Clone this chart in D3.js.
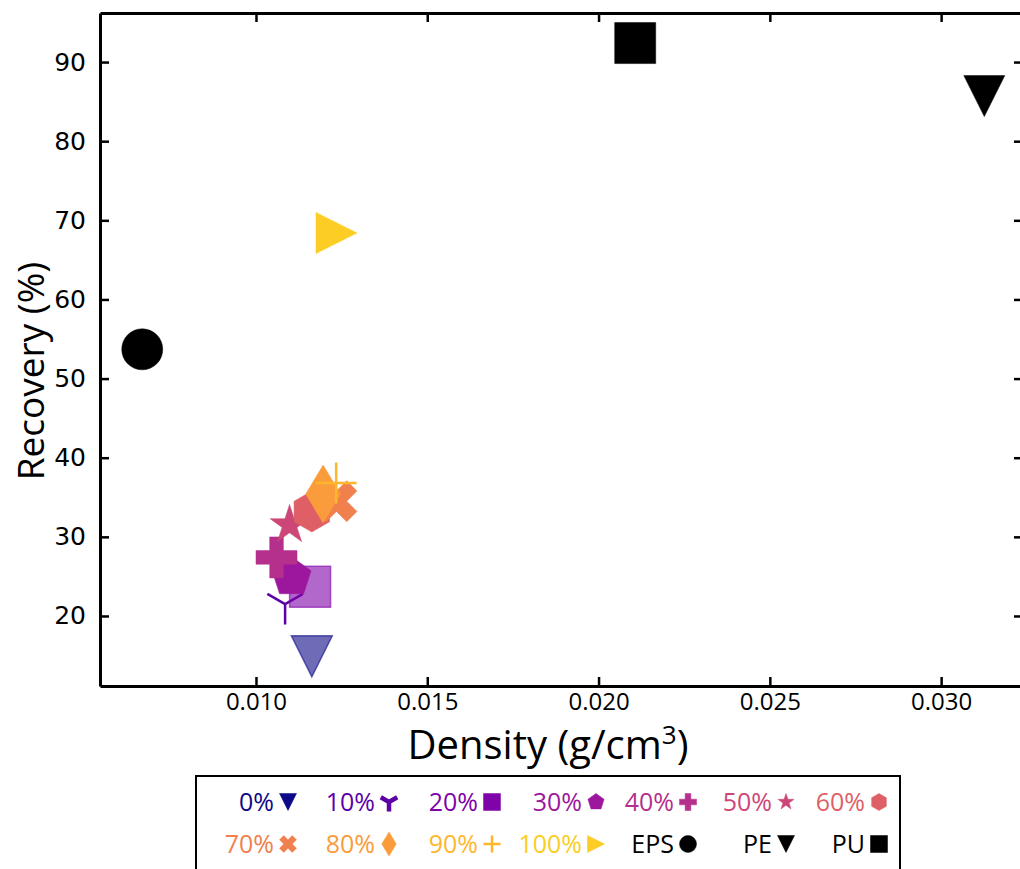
<!DOCTYPE html>
<html>
<head>
<meta charset="utf-8">
<script src="https://cdn.jsdelivr.net/npm/d3@7"></script>
<style>
  html, body { margin: 0; padding: 0; background: #fff; }
  svg { display: block; }
</style>
</head>
<body>
<svg id="chart" width="1020" height="869"></svg>
<script>
// ---------- DATA ----------
const seriesNames = ["0%", "10%", "20%", "30%", "40%", "50%", "60%", "70%", "80%", "90%", "100%", "EPS", "PE", "PU"];
const densityValues = [0.01163, 0.01085, 0.01158, 0.01104, 0.01060, 0.01098, 0.01163, 0.01235, 0.01196, 0.01234, 0.01235, 0.00668, 0.03126, 0.02107];
const recoveryValues = [14.9, 21.5, 23.7, 24.9, 27.4, 31.5, 33.2, 34.5, 35.4, 36.8, 68.4, 53.7, 85.7, 92.4];
const xTickValues = [0.010, 0.015, 0.020, 0.025, 0.030];
const xTickLabels = ["0.010", "0.015", "0.020", "0.025", "0.030"];
const yTickValues = [20, 30, 40, 50, 60, 70, 80, 90];
const yTickLabels = ["20", "30", "40", "50", "60", "70", "80", "90"];

// ---------- STYLE ----------
const markerTypes = ["v", "1", "s", "p", "P", "*", "h", "X", "d", "+", ">", "o", "v", "s"];
const colors = ["#0d0887", "#5c01a6", "#7e03a8", "#9c179e", "#b52f8c", "#cc4778", "#de5f65",
                "#f0804e", "#fa9b3c", "#feb72d", "#fccd25", "#000000", "#000000", "#000000"];
const alphas = [0.6, 1, 0.6, 1, 1, 1, 1, 1, 1, 1, 1, 1, 1, 1];

const svg = d3.select("#chart");
const plot = { left: 100, right: 1023, top: 13, bottom: 686 };

const x = d3.scaleLinear().domain([0.005447, 0.03239]).range([plot.left, plot.right]);
const y = d3.scaleLinear().domain([11.15, 96.2]).range([plot.bottom, plot.top]);

// marker path generators (matplotlib semantics, s = marker size in px)
function poly(pts) { return "M" + pts.map(p => p[0].toFixed(2) + "," + p[1].toFixed(2)).join("L") + "Z"; }
function regular(n, r, rot) {
  const pts = [];
  for (let i = 0; i < n; i++) {
    const a = rot + i * 2 * Math.PI / n;
    pts.push([r * Math.sin(a), -r * Math.cos(a)]);
  }
  return pts;
}
function markerPath(type, s) {
  const h = s / 2;
  switch (type) {
    case "v": return poly([[-h, -h], [h, -h], [0, h]]);
    case ">": return poly([[-h, -h], [h, 0], [-h, h]]);
    case "s": return poly([[-h, -h], [h, -h], [h, h], [-h, h]]);
    case "o": return d3.arc()({ innerRadius: 0, outerRadius: h, startAngle: 0, endAngle: 2 * Math.PI });
    case "p": return poly(regular(5, h, 0));
    case "h": return poly(regular(6, h, 0));
    case "*": {
      const pts = [];
      for (let i = 0; i < 10; i++) {
        const r = i % 2 === 0 ? h : h * 0.381966;
        const a = i * Math.PI / 5;
        pts.push([r * Math.sin(a), -r * Math.cos(a)]);
      }
      return poly(pts);
    }
    case "P": {
      const v = [[-1, -3], [-1, -1], [-3, -1], [-3, 1], [-1, 1], [-1, 3], [1, 3], [1, 1], [3, 1], [3, -1], [1, -1], [1, -3]];
      return poly(v.map(p => [p[0] / 6 * s, p[1] / 6 * s]));
    }
    case "X": {
      const v = [[-1, -2], [0, -1], [1, -2], [2, -1], [1, 0], [2, 1], [1, 2], [0, 1], [-1, 2], [-2, 1], [-1, 0], [-2, -1]];
      return poly(v.map(p => [p[0] / 4 * s, p[1] / 4 * s]));
    }
    case "d": {
      const dy = s * Math.SQRT1_2, dx = 0.6 * dy;
      return poly([[0, -dy], [dx, 0], [0, dy], [-dx, 0]]);
    }
    case "+": return `M${-h},0L${h},0M0,${-h}L0,${h}`;
    case "1": return `M0,0L0,${h}M0,0L${-h * 0.866},${-h * 0.5}M0,0L${h * 0.866},${-h * 0.5}`;
  }
}
const lineMarkers = new Set(["+", "1"]);

function drawMarker(g, type, s, color, alpha, lw) {
  const p = g.append("path").attr("d", markerPath(type, s));
  if (lineMarkers.has(type)) {
    p.attr("fill", "none").attr("stroke", color).attr("stroke-width", lw).attr("stroke-opacity", alpha);
  } else {
    p.attr("fill", color).attr("fill-opacity", alpha)
     .attr("stroke", color).attr("stroke-opacity", alpha).attr("stroke-width", alpha < 1 ? 1.5 : 0.5);
  }
  return p;
}

// ---------- POINTS ----------
const pts = seriesNames.map((n, i) => ({ name: n, dx: densityValues[i], ry: recoveryValues[i], i }));
const gPts = svg.append("g");
pts.forEach(d => {
  const g = gPts.append("g").attr("transform", `translate(${x(d.dx)},${y(d.ry)})`);
  drawMarker(g, markerTypes[d.i], 41, colors[d.i], alphas[d.i], 2.5);
});

// ---------- AXES ----------
const tickLen = 9;
const axisFont = "'Open Sans', sans-serif";

const gx = svg.append("g").attr("transform", `translate(0,${plot.bottom})`)
  .call(d3.axisBottom(x).tickValues(xTickValues).tickFormat((d, i) => xTickLabels[i]).tickSizeInner(-tickLen).tickSizeOuter(0).tickPadding(7));
const gxTop = svg.append("g").attr("transform", `translate(0,${plot.top})`)
  .call(d3.axisTop(x).tickValues(xTickValues).tickFormat("").tickSizeInner(-tickLen).tickSizeOuter(0));
const gy = svg.append("g").attr("transform", `translate(${plot.left},0)`)
  .call(d3.axisLeft(y).tickValues(yTickValues).tickFormat((d, i) => yTickLabels[i]).tickSizeInner(-tickLen).tickSizeOuter(0).tickPadding(14));
const gyRight = svg.append("g").attr("transform", `translate(${plot.right},0)`)
  .call(d3.axisRight(y).tickValues(yTickValues).tickFormat("").tickSizeInner(-tickLen).tickSizeOuter(0));

[gx, gxTop, gy, gyRight].forEach(g => {
  g.select(".domain").attr("stroke", "#000").attr("stroke-width", 3);
  g.selectAll(".tick line").attr("stroke", "#000").attr("stroke-width", 2.5);
});
gx.selectAll(".tick text").attr("font-family", axisFont).attr("font-size", 24).attr("fill", "#000");
gy.selectAll(".tick text").attr("font-family", "'DejaVu Sans', sans-serif").attr("font-size", 25).attr("fill", "#000");

// Axis titles
const xTitle = svg.append("text").attr("x", 548).attr("y", 759)
  .attr("text-anchor", "middle").attr("font-family", axisFont).attr("font-size", 40).attr("fill", "#000");
xTitle.append("tspan").text("Density (g/cm");
xTitle.append("tspan").attr("font-size", 26).attr("dy", -15).text("3");
xTitle.append("tspan").attr("dy", 15).text(")");

svg.append("text").attr("transform", `translate(44,371) rotate(-90)`)
  .attr("text-anchor", "middle").attr("font-family", axisFont).attr("font-size", 37).attr("fill", "#000")
  .text("Recovery (%)");

// ---------- LEGEND ----------
const legend = svg.append("g");
legend.append("rect").attr("x", 196).attr("y", 776).attr("width", 704).attr("height", 110)
  .attr("fill", "#fff").attr("stroke", "#000").attr("stroke-width", 2);
const colX = [288, 389, 492, 596, 688, 786, 879];
const rowY = [802, 844];
pts.forEach((d, k) => {
  const row = Math.floor(k / 7), col = k % 7;
  const mx = colX[col], my = rowY[row];
  legend.append("text").attr("x", mx - 14).attr("y", my).attr("dy", "0.35em")
    .attr("text-anchor", "end").attr("font-family", axisFont).attr("font-size", 25)
    .attr("fill", colors[d.i]).text(d.name);
  const g = legend.append("g").attr("transform", `translate(${mx},${my})`);
  const t = markerTypes[d.i];
  drawMarker(g, t, t === "1" ? 19 : 17, colors[d.i], 1, t === "1" ? 4.5 : 2.5);
});
</script>
</body>
</html>
